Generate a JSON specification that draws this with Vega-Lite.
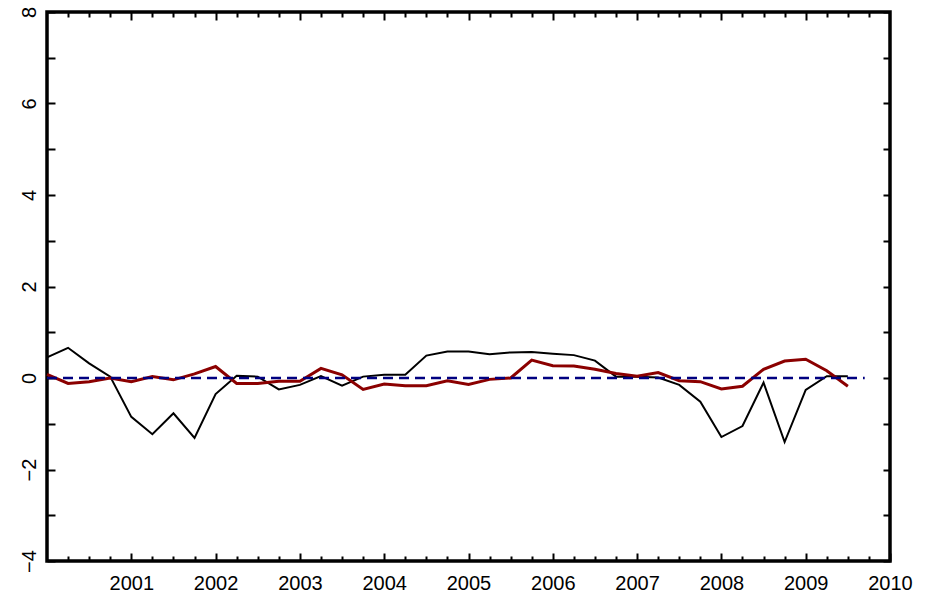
{
  "$schema": "https://vega.github.io/schema/vega-lite/v6.json",
  "width": 843,
  "height": 549,
  "autosize": {"type": "none"},
  "padding": {"left": 47, "top": 12, "right": 47, "bottom": 34},
  "background": "white",
  "config": {
    "view": {"stroke": "black", "strokeWidth": 3.5},
    "axis": {"domain": false, "grid": false, "tickColor": "black", "tickWidth": 2, "labelColor": "black", "labelFont": "Liberation Sans", "labelFontSize": 20, "title": null}
  },
  "datasets": {
    "black": [
      {"t": 2000.0, "v": 0.45}, {"t": 2000.25, "v": 0.66}, {"t": 2000.5, "v": 0.32}, {"t": 2000.75, "v": 0.03},
      {"t": 2001.0, "v": -0.85}, {"t": 2001.25, "v": -1.23}, {"t": 2001.5, "v": -0.77}, {"t": 2001.75, "v": -1.31},
      {"t": 2002.0, "v": -0.35}, {"t": 2002.25, "v": 0.05}, {"t": 2002.5, "v": 0.03}, {"t": 2002.75, "v": -0.25},
      {"t": 2003.0, "v": -0.15}, {"t": 2003.25, "v": 0.04}, {"t": 2003.5, "v": -0.17}, {"t": 2003.75, "v": 0.03},
      {"t": 2004.0, "v": 0.07}, {"t": 2004.25, "v": 0.07}, {"t": 2004.5, "v": 0.49}, {"t": 2004.75, "v": 0.58},
      {"t": 2005.0, "v": 0.58}, {"t": 2005.25, "v": 0.52}, {"t": 2005.5, "v": 0.56}, {"t": 2005.75, "v": 0.57},
      {"t": 2006.0, "v": 0.53}, {"t": 2006.25, "v": 0.50}, {"t": 2006.5, "v": 0.38}, {"t": 2006.75, "v": 0.03},
      {"t": 2007.0, "v": 0.03}, {"t": 2007.25, "v": 0.01}, {"t": 2007.5, "v": -0.15}, {"t": 2007.75, "v": -0.52},
      {"t": 2008.0, "v": -1.29}, {"t": 2008.25, "v": -1.05}, {"t": 2008.5, "v": -0.10}, {"t": 2008.75, "v": -1.40},
      {"t": 2009.0, "v": -0.26}, {"t": 2009.25, "v": 0.04}, {"t": 2009.5, "v": 0.04}
    ],
    "red": [
      {"t": 2000.0, "v": 0.08}, {"t": 2000.25, "v": -0.12}, {"t": 2000.5, "v": -0.08}, {"t": 2000.75, "v": 0.0},
      {"t": 2001.0, "v": -0.08}, {"t": 2001.25, "v": 0.03}, {"t": 2001.5, "v": -0.04}, {"t": 2001.75, "v": 0.09},
      {"t": 2002.0, "v": 0.25}, {"t": 2002.25, "v": -0.12}, {"t": 2002.5, "v": -0.12}, {"t": 2002.75, "v": -0.07},
      {"t": 2003.0, "v": -0.07}, {"t": 2003.25, "v": 0.21}, {"t": 2003.5, "v": 0.07}, {"t": 2003.75, "v": -0.25},
      {"t": 2004.0, "v": -0.13}, {"t": 2004.25, "v": -0.17}, {"t": 2004.5, "v": -0.17}, {"t": 2004.75, "v": -0.06},
      {"t": 2005.0, "v": -0.14}, {"t": 2005.25, "v": -0.03}, {"t": 2005.5, "v": 0.0}, {"t": 2005.75, "v": 0.39},
      {"t": 2006.0, "v": 0.27}, {"t": 2006.25, "v": 0.26}, {"t": 2006.5, "v": 0.19}, {"t": 2006.75, "v": 0.10},
      {"t": 2007.0, "v": 0.04}, {"t": 2007.25, "v": 0.12}, {"t": 2007.5, "v": -0.06}, {"t": 2007.75, "v": -0.08},
      {"t": 2008.0, "v": -0.24}, {"t": 2008.25, "v": -0.18}, {"t": 2008.5, "v": 0.19}, {"t": 2008.75, "v": 0.37},
      {"t": 2009.0, "v": 0.41}, {"t": 2009.25, "v": 0.16}, {"t": 2009.5, "v": -0.18}
    ],
    "zero": [
      {"t": 2000.0, "v": 0}, {"t": 2009.7, "v": 0}
    ]
  },
  "layer": [
    {
      "data": {"name": "black"},
      "mark": {"type": "line", "color": "black", "strokeWidth": 2},
      "encoding": {
        "x": {"field": "t", "type": "quantitative", "scale": {"domain": [2000, 2010], "nice": false, "zero": false},
          "axis": {"orient": "bottom", "values": [2001, 2002, 2003, 2004, 2005, 2006, 2007, 2008, 2009, 2010], "format": "d", "tickSize": -8, "labelPadding": 20, "labelFlush": false, "labelOverlap": false}},
        "y": {"field": "v", "type": "quantitative", "scale": {"domain": [-4, 8], "nice": false, "zero": false},
          "axis": {"orient": "left", "values": [-4, -3, -2, -1, 0, 1, 2, 3, 4, 5, 6, 7, 8], "tickSize": -8, "labelPadding": 20, "labelAngle": 270, "labelAlign": "center", "labelBaseline": "alphabetic", "labelFlush": false, "labelOverlap": false, "labelExpr": "datum.value % 2 == 0 ? datum.label : ''"}}
      }
    },
    {
      "data": {"name": "red"},
      "mark": {"type": "line", "color": "#8B0000", "strokeWidth": 3},
      "encoding": {
        "x": {"field": "t", "type": "quantitative",
          "axis": {"orient": "bottom", "values": [2000.25, 2000.5, 2000.75, 2001.25, 2001.5, 2001.75, 2002.25, 2002.5, 2002.75, 2003.25, 2003.5, 2003.75, 2004.25, 2004.5, 2004.75, 2005.25, 2005.5, 2005.75, 2006.25, 2006.5, 2006.75, 2007.25, 2007.5, 2007.75, 2008.25, 2008.5, 2008.75, 2009.25, 2009.5, 2009.75], "tickSize": -5, "labels": false}},
        "y": {"field": "v", "type": "quantitative",
          "axis": {"orient": "right", "values": [-4, -3, -2, -1, 0, 1, 2, 3, 4, 5, 6, 7, 8], "tickSize": -7, "labels": false}}
      }
    },
    {
      "data": {"name": "zero"},
      "mark": {"type": "line", "color": "#000080", "strokeWidth": 2.5, "strokeDash": [10, 6]},
      "encoding": {
        "x": {"field": "t", "type": "quantitative",
          "axis": {"orient": "top", "values": [2000.25, 2000.5, 2000.75, 2001, 2001.25, 2001.5, 2001.75, 2002, 2002.25, 2002.5, 2002.75, 2003, 2003.25, 2003.5, 2003.75, 2004, 2004.25, 2004.5, 2004.75, 2005, 2005.25, 2005.5, 2005.75, 2006, 2006.25, 2006.5, 2006.75, 2007, 2007.25, 2007.5, 2007.75, 2008, 2008.25, 2008.5, 2008.75, 2009, 2009.25, 2009.5, 2009.75], "tickSize": {"condition": {"test": "datum.value % 1 == 0", "value": -8}, "value": -5}, "labels": false}},
        "y": {"field": "v", "type": "quantitative", "axis": null}
      }
    }
  ],
  "resolve": {"axis": {"x": "independent", "y": "independent"}}
}
